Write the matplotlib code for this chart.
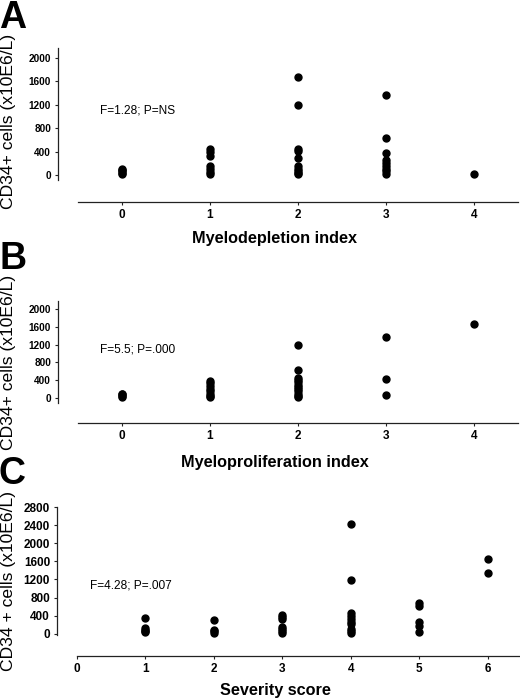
import matplotlib
matplotlib.use('Agg')
import matplotlib.pyplot as plt

plt.rcParams['font.family'] = ['Liberation Sans', 'DejaVu Sans']

# panel A: myelodepletion index
a_x = [0, 0, 0, 0, 0,
       1, 1, 1, 1, 1, 1, 1,
       2, 2, 2, 2, 2, 2, 2, 2, 2, 2,
       3, 3, 3, 3, 3, 3, 3, 3, 3,
       4]
a_y = [15, 40, 60, 85, 110,
       440, 400, 330, 150, 100, 50, 20,
       1680, 1190, 450, 410, 290, 150, 110, 70, 40, 15,
       1370, 640, 370, 260, 200, 150, 100, 60, 20,
       10]

# panel B: myeloproliferation index
b_x = [0, 0, 0, 0,
       1, 1, 1, 1, 1, 1, 1, 1,
       2, 2, 2, 2, 2, 2, 2, 2, 2, 2, 2, 2,
       3, 3, 3,
       4]
b_y = [20, 50, 80, 100,
       380, 330, 280, 200, 150, 100, 50, 20,
       1190, 630, 460, 400, 350, 300, 250, 200, 150, 100, 50, 15,
       1370, 420, 70,
       1660]

# panel C: severity score
c_x = [1, 1, 1, 1, 1,
       2, 2, 2, 2,
       3, 3, 3, 3, 3, 3, 3,
       4, 4, 4, 4, 4, 4, 4, 4, 4, 4,
       5, 5, 5, 5, 5,
       6, 6]
c_y = [340, 120, 80, 50, 30,
       300, 80, 50, 20,
       420, 380, 320, 150, 100, 50, 20,
       2420, 1180, 450, 400, 330, 270, 220, 100, 50, 20,
       680, 620, 270, 170, 30,
       1650, 1340]

fig = plt.figure(figsize=(5.2, 7.0), dpi=100)

panels = [
    dict(x=a_x, y=a_y, rect=[78/520, 1-202/700, 440/520, 154/700],
         xlim=(-0.5, 4.5), ylim=(-462, 2170), ybounds=(-85, 2170),
         xticks=[0, 1, 2, 3, 4], yticks=[0, 400, 800, 1200, 1600, 2000], ysize=7.2,
         stat='F=1.28; P=NS', stat_xy=(-0.25, 1110),
         xlabel='Myelodepletion index', xlab_y=238,
         ylabel='CD34+ cells (x10E6/L)', ylab_y=121,
         letter='A', letter_y=0),
    dict(x=b_x, y=b_y, rect=[78/520, 1-423/700, 440/520, 122/700],
         xlim=(-0.5, 4.5), ylim=(-562, 2180), ybounds=(-112, 2180),
         xticks=[0, 1, 2, 3, 4], yticks=[0, 400, 800, 1200, 1600, 2000], ysize=7.2,
         stat='F=5.5; P=.000', stat_xy=(-0.25, 1100),
         xlabel='Myeloproliferation index', xlab_y=462,
         ylabel='CD34+ cells (x10E6/L)', ylab_y=362,
         letter='B', letter_y=241),
    dict(x=c_x, y=c_y, rect=[77/520, 1-656/700, 443/520, 149/700],
         xlim=(0, 6.47), ylim=(-492, 2800), ybounds=(-30, 2800),
         xticks=[0, 1, 2, 3, 4, 5, 6], yticks=[0, 400, 800, 1200, 1600, 2000, 2400, 2800], ysize=8.5,
         stat='F=4.28; P=.007', stat_xy=(0.19, 1075),
         xlabel='Severity score', xlab_y=690,
         ylabel='CD34 + cells (x10E6/L)', ylab_y=581,
         letter='C', letter_y=456),
]

for p in panels:
    ax = fig.add_axes(p['rect'])
    ax.plot(p['x'], p['y'], 'o', color='black', markersize=5, clip_on=False)
    ax.set_xlim(p['xlim'])
    ax.set_ylim(p['ylim'])
    ax.set_xticks(p['xticks'])
    ax.set_yticks(p['yticks'])
    for s in ['top', 'right']:
        ax.spines[s].set_visible(False)
    ax.spines['left'].set_position(('outward', 14.4))
    ax.spines['left'].set_bounds(*p['ybounds'])
    for s in ['left', 'bottom']:
        ax.spines[s].set_linewidth(0.9)
        ax.spines[s].set_color('#222222')
    ax.tick_params(axis='both', length=2, width=0.8, pad=3, color='#222222')
    ax.tick_params(axis='x', labelsize=8.5)
    ax.tick_params(axis='y', labelsize=p['ysize'])
    for lab in ax.get_xticklabels() + ax.get_yticklabels():
        lab.set_fontweight('bold')
    ax.text(p['stat_xy'][0], p['stat_xy'][1], p['stat'], fontsize=8.6,
            ha='left', va='center')
    fig.text(275/520, 1 - p['xlab_y']/700, p['xlabel'], fontsize=11.7,
             fontweight='bold', ha='center', va='center')
    fig.text(9/520, 1 - p['ylab_y']/700, p['ylabel'], fontsize=12.6,
             rotation=90, ha='center', va='center')
    fig.text(-1/520, 1 - p['letter_y']/700, p['letter'], fontsize=27,
             fontweight='bold', ha='left', va='top')

fig.savefig('out.png', dpi=100)
